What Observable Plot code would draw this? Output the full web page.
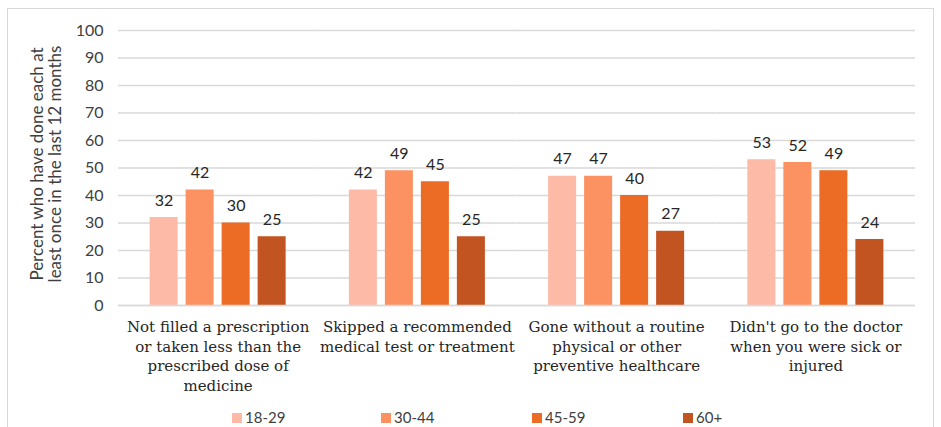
<!DOCTYPE html>
<html>
<head>
<meta charset="utf-8">
<script src="https://cdn.jsdelivr.net/npm/d3@7"></script>
<script src="https://cdn.jsdelivr.net/npm/@observablehq/plot@0.6"></script>
<style>
  html, body { margin: 0; padding: 0; background: #fff; }
  body { width: 941px; height: 427px; position: relative; overflow: hidden; }
  #frame { position: absolute; left: 7px; top: 8px; width: 927px; height: 440px; border: 1px solid #d9d9d9; box-sizing: border-box; }
  #chart { position: absolute; left: 0; top: 0; }
  #ytitle { position: absolute; left: 46px; top: 164px; transform: translate(-50%, -50%) rotate(-90deg); white-space: nowrap; text-align: center; font-family: Lato, sans-serif; font-size: 17px; line-height: 18px; color: #404040; }
  #legend { position: absolute; top: 409px; left: 0; width: 941px; font-family: Lato, sans-serif; font-size: 15px; line-height: 17px; color: #404040; }
  .item { position: absolute; display: flex; align-items: center; }
  .sw { width: 10px; height: 10px; margin-right: 3px; }
</style>
</head>
<body>
<div id="frame"></div>
<div id="chart"></div>
<div id="ytitle"></div>
<div id="legend"></div>
<script>
const categories = [
  "Not filled a prescription or taken less than the prescribed dose of medicine",
  "Skipped a recommended medical test or treatment",
  "Gone without a routine physical or other preventive healthcare",
  "Didn't go to the doctor when you were sick or injured"
];
const categoryLabels = [
  "Not filled a prescription\nor taken less than the\nprescribed dose of\nmedicine",
  "Skipped a recommended\nmedical test or treatment",
  "Gone without a routine\nphysical or other\npreventive healthcare",
  "Didn't go to the doctor\nwhen you were sick or\ninjured"
];
const ageGroups = ["18-29", "30-44", "45-59", "60+"];
const colors = ["#fdbba7", "#fc9162", "#ec6b25", "#c25421"];
const values1829 = [32, 42, 47, 53];
const values3044 = [42, 49, 47, 52];
const values4559 = [30, 45, 40, 49];
const values60 = [25, 25, 27, 24];
const yTicks = [0, 10, 20, 30, 40, 50, 60, 70, 80, 90, 100];
const yTitle = "Percent who have done each at\nleast once in the last 12 months";

const series = [values1829, values3044, values4559, values60];
const data = [];
categories.forEach((c, i) => {
  ageGroups.forEach((a, j) => data.push({category: c, age: a, value: series[j][i]}));
});
const labelOf = new Map(categories.map((c, i) => [c, categoryLabels[i]]));

const chart = Plot.plot({
  width: 941,
  height: 400,
  marginLeft: 118,
  marginRight: 26,
  marginTop: 30,
  marginBottom: 95,
  style: {background: "transparent", fontFamily: "Lato, sans-serif", fontSize: "16px", color: "#404040"},
  fx: {domain: categories, padding: 0, round: false},
  x: {domain: ageGroups, paddingInner: 0.222, paddingOuter: 0.878, round: false, axis: null},
  y: {domain: [0, 100], round: false},
  color: {domain: ageGroups, range: colors},
  marks: [
    Plot.gridY(yTicks, {stroke: "#d9d9d9", strokeOpacity: 1, strokeWidth: 1.3}),
    Plot.axisY(yTicks, {tickSize: 0, tickPadding: 15, label: null, fontSize: 16, fill: "#404040"}),
    Plot.axisFx({anchor: "bottom", label: null, tickSize: 0, tickPadding: 13, tickFormat: d => labelOf.get(d), fontFamily: "DejaVu Serif", fontSize: 15, lineHeight: 1.3, fill: "#262626"}),
    Plot.barY(data, {fx: "category", x: "age", y: "value", fill: "age"}),
    Plot.text(data, {fx: "category", x: "age", y: "value", text: d => String(d.value), lineAnchor: "bottom", dy: -12, fontSize: 16, fill: "#262626"}),
    Plot.ruleY([0], {stroke: "#d9d9d9", strokeWidth: 1.5})
  ]
});
document.getElementById("chart").appendChild(chart);

const yt = document.getElementById("ytitle");
yt.innerHTML = yTitle.split("\n").join("<br>");

const legend = document.getElementById("legend");
const legendX = [232, 381, 532, 683];
ageGroups.forEach((a, i) => {
  const it = document.createElement("div");
  it.className = "item";
  it.style.left = legendX[i] + "px";
  it.innerHTML = `<span class="sw" style="background:${colors[i]}"></span><span>${a}</span>`;
  legend.appendChild(it);
});
</script>
</body>
</html>
